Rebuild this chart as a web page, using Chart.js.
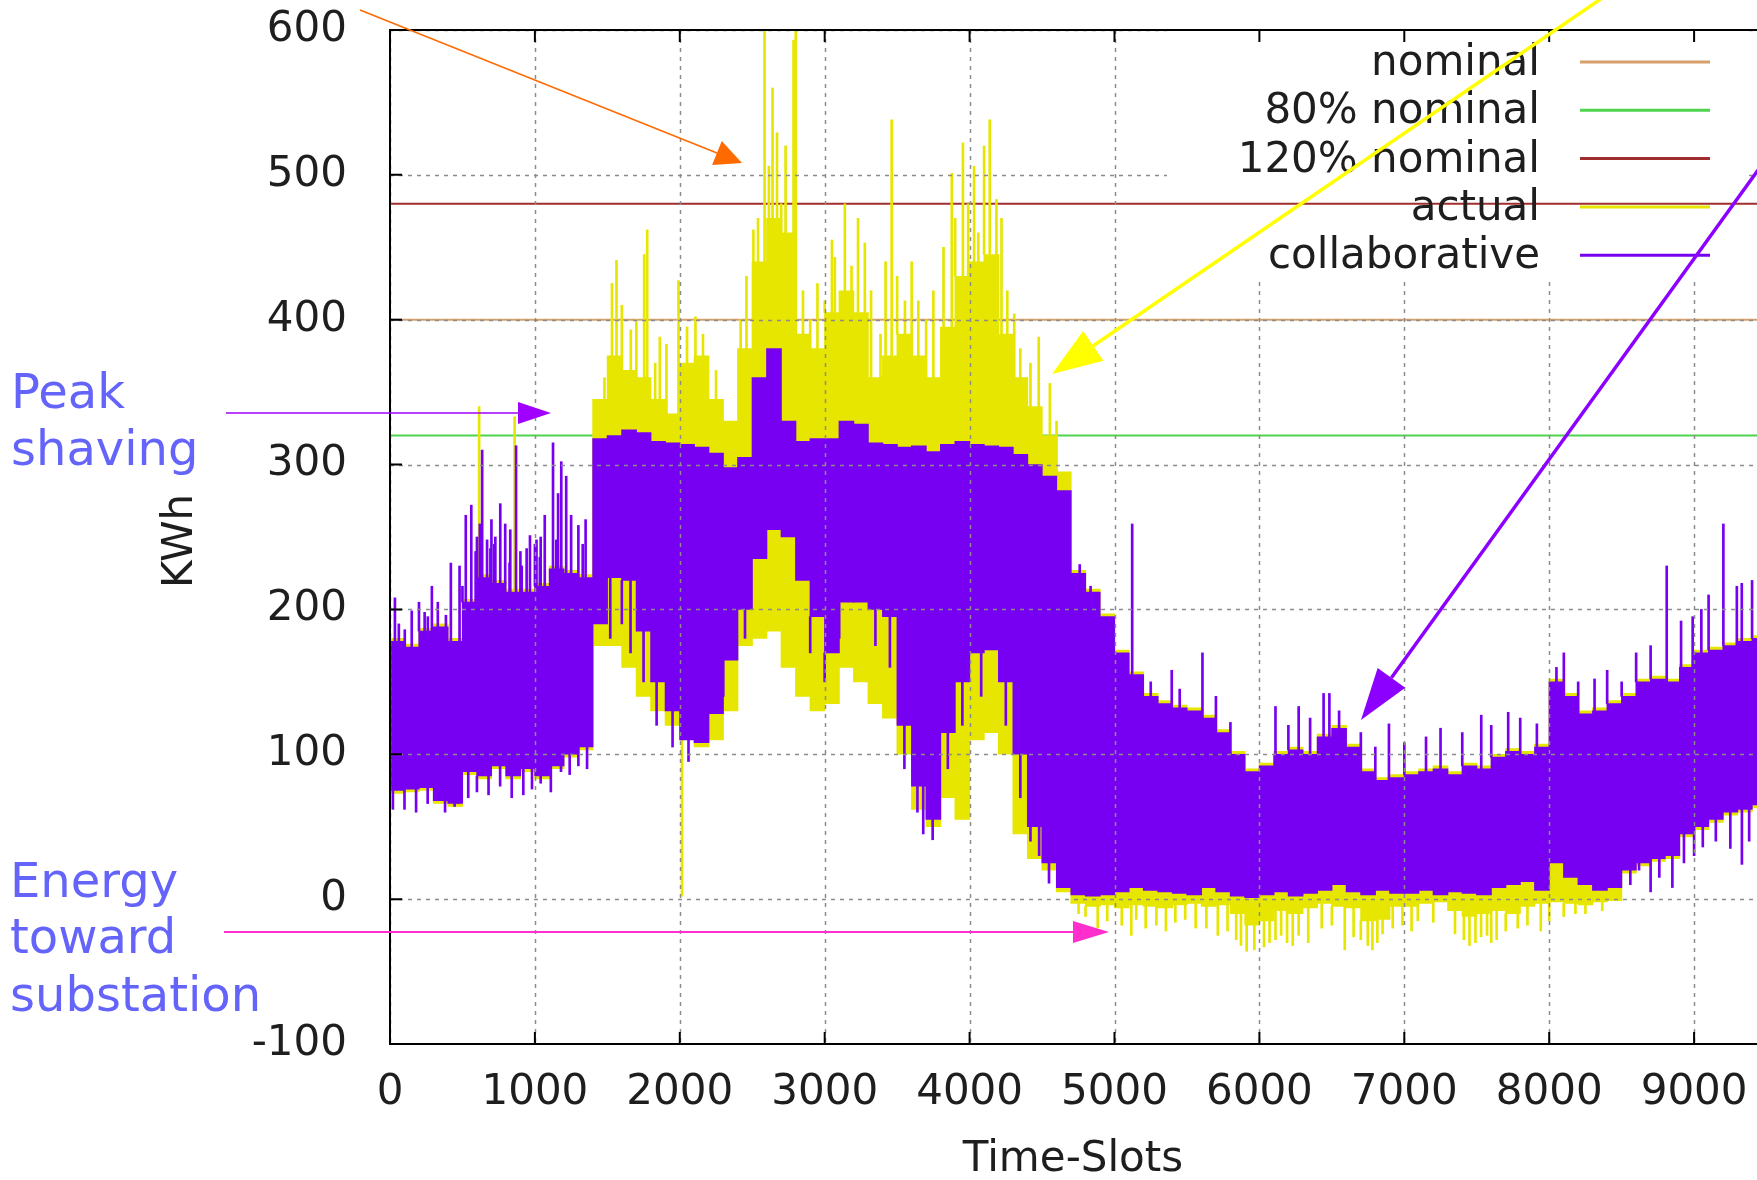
<!DOCTYPE html>
<html>
<head>
<meta charset="utf-8">
<title>Peak shaving — actual vs collaborative</title>
<script src="https://cdn.jsdelivr.net/npm/chart.js@4.4.1/dist/chart.umd.min.js"></script>
<style>
    html, body { margin: 0; padding: 0; width: 1757px; height: 1180px; overflow: hidden; background: #fff; }
    #wrap { position: absolute; left: 0; top: 0; width: 1950px; height: 1180px; }
</style>
</head>
<body>
<div id="wrap"><canvas id="chart" width="1950" height="1180"></canvas></div>
<script>
// ─── Data (one entry per 100 time-slots) ────────────────────────────────────
const BIN_WIDTH = 100;

const collabLow = [
     75,  76,  77,  68,  66,  88,  85,  92,  85,  90,
     85,  92, 100, 105, 190, 222, 220, 185, 150, 130,
    110, 108, 128, 165, 200, 235, 255, 250, 220, 195,
    170, 205, 205, 200, 195, 120,  78,  55, 115, 150,
    170, 172, 150, 100,  50,  25,   8,   3,   2,   3,
      5,   8,   6,   5,   4,   3,   8,   5,   2,   1,
      3,   5,   2,   4,   6,  10,   5,   3,   6,   4,
      4,   6,   3,   5,   4,   3,   8,  10,  12,   6,
     25,  15,  10,   6,   8,  20,  25,  28,  30,  45,
     50,  55,  60,  62,  65,
];
const collabHigh = [
    178, 174, 185, 188, 178, 205, 222, 218, 212, 212,
    216, 228, 225, 222, 318, 320, 324, 322, 316, 315,
    314, 312, 308, 298, 305, 360, 380, 330, 316, 318,
    318, 330, 328, 315, 314, 312, 313, 309, 314, 316,
    314, 313, 312, 307, 300, 292, 282, 225, 212, 195,
    170, 155, 140, 135, 132, 130, 125, 115, 100,  88,
     92, 100, 103, 100, 112, 118, 105,  88,  82,  84,
     86,  88,  90,  86,  92,  90,  98, 102, 100, 105,
    150, 140, 128, 130, 135, 140, 150, 152, 150, 160,
    170, 172, 175, 178, 180,
];
const actualLow = [
     73,  74,  75,  66,  64,  86,  83,  90,  83,  88,
     83,  90,  98, 103, 175, 175, 160, 140, 130, 120,
    115, 105, 110, 130, 175, 180, 185, 160, 140, 130,
    135, 160, 150, 135, 125, 100,  62,  50,  70,  55,
    110, 115, 100,  45,  28,  20,   5,  -3,  -5,  -4,
     -6,  -4,  -5,  -6,  -4,  -3,  -5,  -4, -10, -18,
    -15,  -8, -10,  -6,  -3,  -5,  -6, -15, -14,  -5,
     -5,  -3,  -2,  -8, -12, -10,  -8, -10,  -5,  -3,
     -2,  -3,  -4,  -2,  -1,  18,  23,  26,  28,  43,
     48,  53,  58,  60,  63,
];
const actualHigh = [
    180, 176, 187, 190, 180, 207, 224, 220, 214, 214,
    218, 230, 227, 224, 345, 375, 365, 360, 345, 335,
    370, 375, 345, 330, 380, 440, 470, 460, 390, 380,
    405, 420, 405, 360, 375, 390, 375, 360, 395, 430,
    440, 445, 390, 360, 340, 320, 295, 227, 214, 197,
    172, 157, 142, 137, 134, 132, 127, 117, 102,  90,
     94, 102, 105, 102, 114, 120, 107,  90,  84,  86,
     88,  90,  92,  88,  94,  92, 100, 104, 102, 107,
    152, 142, 130, 132, 137, 142, 152, 154, 152, 162,
    172, 174, 177, 180, 182,
];

// Single slots that stick out of the band: [time-slot, KWh]
const collabSpikes = [
    // 0 – 1450, top edge
    [34, 208], [61, 190], [102, 186], [150, 199], [200, 205], [239, 198], [261, 195],
    [289, 216], [330, 205], [386, 196], [420, 232], [480, 230], [500, 216], [523, 265],
    [561, 272], [591, 240], [600, 250], [620, 259], [636, 310], [670, 248], [693, 242],
    [700, 262], [720, 245], [727, 250], [761, 273], [795, 259], [825, 232], [830, 255],
    [870, 313], [900, 240], [909, 230], [943, 242], [966, 251], [1000, 245], [1011, 248],
    [1034, 236], [1040, 250], [1068, 265], [1125, 315], [1148, 248], [1160, 280],
    [1182, 302], [1216, 292], [1250, 265], [1300, 258], [1330, 245], [1350, 262],
    // 0 – 1450, bottom edge
    [20, 62], [100, 62], [180, 60], [260, 66], [380, 60], [446, 64], [470, 66],
    [540, 70], [600, 74], [680, 72], [760, 78], [840, 70], [920, 72], [980, 76],
    [1040, 80], [1110, 74], [1180, 88], [1240, 86], [1300, 92], [1360, 90],
    // 1450 – 4700, bottom edge
    [1520, 180], [1600, 190], [1660, 170], [1750, 150], [1840, 120], [1950, 105],
    [2060, 95], [2160, 108], [2300, 140], [2450, 180], [2900, 170], [3000, 150],
    [3100, 180], [3350, 175], [3450, 160], [3550, 90], [3640, 60], [3680, 45],
    [3745, 41], [3850, 90], [3950, 120], [4080, 140], [4250, 120], [4350, 70],
    [4420, 40], [4480, 30], [4548, 11],
    // 4700 – 9500, top and bottom edges
    [4760, 231], [4835, 216], [5122, 259], [5250, 150], [5395, 158], [5450, 145],
    [5607, 170], [5700, 140], [5800, 122], [6111, 133], [6200, 120], [6271, 133],
    [6350, 125], [6443, 142], [6483, 142], [6550, 130], [6700, 115], [6800, 105],
    [6894, 121], [7000, 108], [7150, 112], [7250, 118], [7400, 115], [7531, 127],
    [7600, 120], [7717, 129], [7800, 125], [7915, 121], [8050, 160], [8101, 170],
    [8200, 150], [8313, 152], [8400, 158], [8500, 150], [8600, 170], [8700, 175],
    [8811, 230], [8910, 192], [8990, 195], [9050, 200], [9100, 210], [9202, 259],
    [9295, 216], [9329, 218], [9400, 220],
    [8560, 10], [8620, 20], [8700, 5], [8760, 15], [8850, 8], [8930, 25], [9000, 30],
    [9060, 36], [9150, 40], [9250, 35], [9330, 24], [9380, 40],
];
const actualSpikes = [
    [615, 340], [860, 333], [1480, 360], [1532, 425], [1563, 441], [1600, 410],
    [1662, 393], [1700, 400], [1754, 445], [1775, 462], [1830, 370], [1862, 388],
    [1908, 383], [1991, 427], [2015, 2], [2050, 395], [2108, 402], [2160, 390],
    [2250, 365], [2420, 400], [2460, 430], [2508, 462], [2540, 470], [2585, 600],
    [2615, 506], [2640, 560], [2671, 529], [2700, 480], [2730, 520], [2754, 450],
    [2785, 593], [2800, 600], [2850, 420], [2900, 400], [2950, 425], [3000, 413],
    [3050, 455], [3070, 443], [3139, 480], [3185, 437], [3230, 470], [3277, 453],
    [3320, 420], [3385, 390], [3420, 440], [3462, 538], [3500, 430], [3554, 413],
    [3600, 440], [3646, 413], [3700, 400], [3750, 420], [3820, 450], [3877, 501],
    [3900, 470], [3954, 522], [3990, 480], [4031, 506], [4060, 460], [4100, 520],
    [4139, 538], [4185, 483], [4220, 470], [4260, 420], [4308, 404], [4350, 380],
    [4420, 370], [4477, 388], [4554, 356], [4600, 330],
    // energy sent back toward the substation
    [4752, -10], [4800, -12], [4884, -20], [4950, -15], [5050, -18], [5116, -25],
    [5150, -14], [5215, -20], [5289, -18], [5355, -22], [5420, -16], [5488, -14],
    [5560, -20], [5634, -20], [5713, -25], [5780, -22], [5840, -28], [5873, -32],
    [5912, -36], [5965, -35], [6032, -33], [6070, -30], [6111, -28], [6150, -25],
    [6191, -30], [6230, -32], [6271, -25], [6337, -30], [6430, -20], [6500, -18],
    [6589, -35], [6650, -26], [6700, -28], [6748, -32], [6780, -35], [6814, -30],
    [6850, -24], [6920, -20], [6987, -18], [7050, -22], [7093, -15], [7200, -16],
    [7350, -24], [7411, -28], [7450, -32], [7491, -30], [7530, -26], [7571, -25],
    [7600, -30], [7637, -28], [7700, -22], [7783, -20], [7850, -18], [7942, -22],
    [8000, -15], [8100, -12], [8181, -10], [8250, -10], [8366, -8],
];

// Reference levels (KWh)
const refLabels = ["nominal", "80% nominal", "120% nominal"];
const refLevels = [400, 320, 480];

// Tick labels
const xTickValues = [0, 1000, 2000, 3000, 4000, 5000, 6000, 7000, 8000, 9000, 10000];
const yTickValues = [-100, 0, 100, 200, 300, 400, 500, 600];

// ─── Styles ─────────────────────────────────────────────────────────────────
const FONT = "DejaVu Sans";
const TEXT_COLOR = "#1e1e1e";
const NOTE_COLOR = "#6464fa";

const COLORS = {
    "nominal":       "#d6a06c",
    "80% nominal":   "#4fd44f",
    "120% nominal":  "#a12e2e",
    "actual":        "#e6e600",
    "collaborative": "#7700f2",
};

// gnuplot key box (grid is hidden behind it)
const KEY_BOX = { x: 1167, y: 30, w: 580, h: 250 };

// ═══════════════════════════════════════════════════════════════════════════
//  DATASETS
// ═══════════════════════════════════════════════════════════════════════════

function bandData(lo, hi) {
    return lo.map((l, i) => ({ x: i * BIN_WIDTH + BIN_WIDTH / 2, y: [l, hi[i]] }));
}

// a spike is drawn from the edge of its band out to the spike value
function spikeData(spikes, lo, hi) {
    return spikes.map(([x, v]) => {
        const i = Math.min(Math.floor(x / BIN_WIDTH), hi.length - 1);
        const base = v > hi[i] ? hi[i] : (v < lo[i] ? lo[i] : v);
        return { x: x, y: [base, v] };
    });
}

function refLine(label, level, order) {
    return {
        type: "line",
        label: label,
        data: [{ x: 0, y: level }, { x: 10000, y: level }],
        borderColor: COLORS[label],
        borderWidth: 2,
        pointRadius: 0,
        order: order,
    };
}

const datasets = [
    {
        label: "collaborative",
        data: bandData(collabLow, collabHigh),
        backgroundColor: COLORS["collaborative"],
        barThickness: 15,
        order: 0,
    },
    {
        label: "collaborative spikes",
        data: spikeData(collabSpikes, collabLow, collabHigh),
        backgroundColor: COLORS["collaborative"],
        barThickness: 2,
        order: 1,
    },
    {
        label: "actual",
        data: bandData(actualLow, actualHigh),
        backgroundColor: COLORS["actual"],
        barThickness: 15,
        order: 2,
    },
    {
        label: "actual spikes",
        data: spikeData(actualSpikes, actualLow, actualHigh),
        backgroundColor: COLORS["actual"],
        barThickness: 2,
        order: 3,
    },
    refLine(refLabels[2], refLevels[2], 4),
    refLine(refLabels[1], refLevels[1], 5),
    refLine(refLabels[0], refLevels[0], 6),
];

// ═══════════════════════════════════════════════════════════════════════════
//  GNUPLOT-STYLE FRAME, KEY AND NOTES
// ═══════════════════════════════════════════════════════════════════════════

function drawArrow(ctx, x1, y1, x2, y2, color, width, headLen, headHalf) {
    const ang = Math.atan2(y2 - y1, x2 - x1);
    const bx = x2 - headLen * Math.cos(ang);
    const by = y2 - headLen * Math.sin(ang);
    ctx.strokeStyle = color;
    ctx.fillStyle = color;
    ctx.lineWidth = width;
    ctx.setLineDash([]);
    ctx.beginPath();
    ctx.moveTo(x1, y1);
    ctx.lineTo(bx, by);
    ctx.stroke();
    ctx.beginPath();
    ctx.moveTo(x2, y2);
    ctx.lineTo(bx + headHalf * Math.sin(ang), by - headHalf * Math.cos(ang));
    ctx.lineTo(bx - headHalf * Math.sin(ang), by + headHalf * Math.cos(ang));
    ctx.closePath();
    ctx.fill();
}

const gnuplotFrame = {
    id: "gnuplotFrame",

    afterDatasetsDraw(chart) {
        const { ctx, chartArea: a, scales: { x, y } } = chart;

        // dotted grid, in front of the data but not inside the key box
        ctx.save();
        ctx.beginPath();
        ctx.rect(a.left, a.top, a.right - a.left, a.bottom - a.top);
        ctx.rect(KEY_BOX.x, KEY_BOX.y, KEY_BOX.w, KEY_BOX.h);
        ctx.clip("evenodd");
        ctx.strokeStyle = "#8c8c8c";
        ctx.lineWidth = 1.5;
        ctx.setLineDash([4, 5]);
        x.ticks.forEach(t => {
            const px = Math.round(x.getPixelForValue(t.value)) + 0.5;
            ctx.beginPath();
            ctx.moveTo(px, a.top);
            ctx.lineTo(px, a.bottom);
            ctx.stroke();
        });
        y.ticks.forEach(t => {
            const py = Math.round(y.getPixelForValue(t.value)) + 0.5;
            ctx.beginPath();
            ctx.moveTo(a.left, py);
            ctx.lineTo(a.right, py);
            ctx.stroke();
        });
        ctx.restore();

        // border and inward tick marks
        ctx.save();
        ctx.strokeStyle = "#000";
        ctx.lineWidth = 2;
        ctx.strokeRect(a.left, a.top, a.right - a.left, a.bottom - a.top);
        ctx.beginPath();
        x.ticks.forEach(t => {
            const px = x.getPixelForValue(t.value);
            ctx.moveTo(px, a.bottom); ctx.lineTo(px, a.bottom - 12);
            ctx.moveTo(px, a.top);    ctx.lineTo(px, a.top + 12);
        });
        y.ticks.forEach(t => {
            const py = y.getPixelForValue(t.value);
            ctx.moveTo(a.left, py);  ctx.lineTo(a.left + 12, py);
            ctx.moveTo(a.right, py); ctx.lineTo(a.right - 12, py);
        });
        ctx.stroke();
        ctx.restore();
    },

    afterDraw(chart) {
        const ctx = chart.ctx;
        ctx.save();

        // key: right-aligned labels with a line sample after each
        const keyOrder = ["nominal", "80% nominal", "120% nominal", "actual", "collaborative"];
        ctx.font = `42px "${FONT}"`;
        ctx.textAlign = "right";
        ctx.textBaseline = "alphabetic";
        keyOrder.forEach((label, i) => {
            const base = 75 + i * 48.3;
            ctx.fillStyle = TEXT_COLOR;
            ctx.fillText(label, 1540, base);
            ctx.strokeStyle = COLORS[label];
            ctx.lineWidth = 3;
            ctx.beginPath();
            ctx.moveTo(1580, base - 13);
            ctx.lineTo(1710, base - 13);
            ctx.stroke();
        });

        // axis titles
        ctx.font = `42px "${FONT}"`;
        ctx.textAlign = "center";
        ctx.textBaseline = "middle";
        ctx.fillStyle = TEXT_COLOR;
        ctx.fillText("Time-Slots", 1073, 1160);
        ctx.save();
        ctx.translate(181, 541);
        ctx.rotate(-Math.PI / 2);
        ctx.fillText("KWh", 0, 0);
        ctx.restore();

        // notes
        ctx.font = `48px "${FONT}"`;
        ctx.fillStyle = NOTE_COLOR;
        ctx.textAlign = "left";
        ctx.textBaseline = "alphabetic";
        ctx.fillText("Peak", 11, 408);
        ctx.fillText("shaving", 11, 465);
        ctx.fillText("Energy", 10, 897);
        ctx.fillText("toward", 10, 953);
        ctx.fillText("substation", 10, 1011);

        drawArrow(ctx, 360, 10, 742, 163, "#ff6a00", 1.5, 27, 13);
        drawArrow(ctx, 1630, -21, 1052, 374, "#ffff00", 3.5, 50, 18);
        drawArrow(ctx, 1800, 112, 1361, 720, "#8c00ff", 3.5, 52, 17);
        drawArrow(ctx, 226, 413, 551, 413, "#a000ff", 1.5, 33, 11);
        drawArrow(ctx, 224, 932, 1109, 932, "#ff2ecc", 2, 36, 11);

        ctx.restore();
    },
};

// ═══════════════════════════════════════════════════════════════════════════
//  CHART
// ═══════════════════════════════════════════════════════════════════════════

Chart.defaults.font.family = FONT;

new Chart(document.getElementById("chart").getContext("2d"), {
    type: "bar",
    data: { datasets: datasets },
    options: {
        responsive: false,
        animation: false,
        events: [],
        devicePixelRatio: 1,
        layout: { padding: { left: 0, top: 30, right: 111, bottom: 0 } },
        plugins: {
            legend: { display: false },
            tooltip: { enabled: false },
        },
        scales: {
            x: {
                type: "linear",
                stacked: true,
                offset: false,
                min: 0,
                max: 10000,
                afterBuildTicks: scale => { scale.ticks = xTickValues.map(v => ({ value: v })); },
                afterFit: scale => {
                    scale.height = 136;
                    scale.paddingLeft = 0;
                    scale.paddingRight = 0;
                },
                grid: { display: false, drawTicks: false },
                border: { display: false },
                ticks: {
                    autoSkip: false,
                    maxRotation: 0,
                    padding: 24,
                    color: TEXT_COLOR,
                    font: { size: 42, family: FONT },
                    callback: v => String(v),
                },
            },
            y: {
                stacked: false,
                min: -100,
                max: 600,
                afterBuildTicks: scale => { scale.ticks = yTickValues.map(v => ({ value: v })); },
                afterFit: scale => {
                    scale.width = 390;
                    scale.paddingTop = 0;
                    scale.paddingBottom = 0;
                },
                grid: { display: false, drawTicks: false },
                border: { display: false },
                ticks: {
                    padding: 43,
                    color: TEXT_COLOR,
                    font: { size: 42, family: FONT },
                    callback: v => String(v),
                },
            },
        },
    },
    plugins: [gnuplotFrame],
});
</script>
</body>
</html>
